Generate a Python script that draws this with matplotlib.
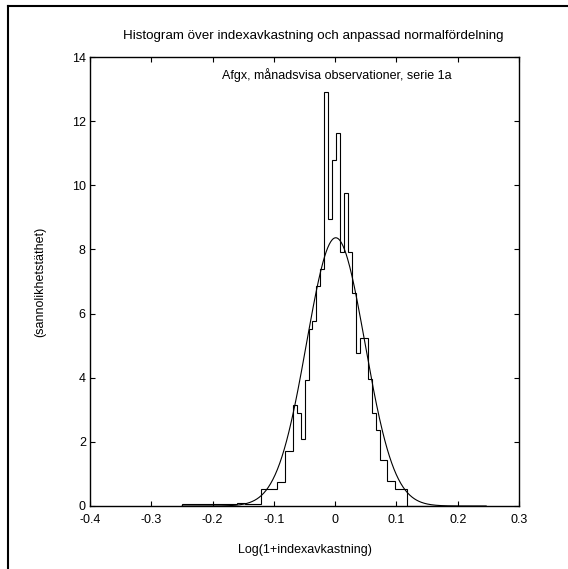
import numpy as np
import matplotlib.pyplot as plt
from matplotlib.lines import Line2D

plt.rcParams['font.family'] = ['Liberation Sans', 'DejaVu Sans']
plt.rcParams['font.size'] = 9

# histogram bins (log returns), density per bin
bin_start = -0.2496
bin_stop = 0.2464
n_bins = 77
density = ([0.05] * 14 + [0.08] * 2 + [0.05] * 4
           + [0.53] * 4 + [0.76] * 2 + [1.71] * 2
           + [3.15, 2.89, 2.08, 3.93, 5.52, 5.78, 6.86, 7.39,
              12.92, 8.95, 10.79, 11.62, 7.93, 9.75, 7.93, 6.63, 4.76]
           + [5.25] * 2 + [3.95, 2.89, 2.37]
           + [1.43] * 2 + [0.79] * 2 + [0.52] * 3
           + [0.0] * 20)

# fitted normal distribution
fit_mean = 0.001
fit_std = 0.0477

x_ticks = [-0.4, -0.3, -0.2, -0.1, 0, 0.1, 0.2, 0.3]
x_tick_labels = ['-0.4', '-0.3', '-0.2', '-0.1', '0', '0.1', '0.2', '0.3']
y_ticks = [0, 2, 4, 6, 8, 10, 12, 14]

title = 'Histogram över indexavkastning och anpassad normalfördelning'
subtitle = 'Afgx, månadsvisa observationer, serie 1a'

fig = plt.figure(figsize=(5.68, 5.69), dpi=100)
ax = fig.add_axes([90 / 568, 1 - 506 / 569, 429 / 568, 449 / 569])

edges = np.linspace(bin_start, bin_stop, n_bins + 1)
ax.stairs(density, edges, color='black', linewidth=0.8)

xs = np.linspace(bin_start, bin_stop, 400)
pdf = np.exp(-0.5 * ((xs - fit_mean) / fit_std) ** 2) / (fit_std * np.sqrt(2 * np.pi))
ax.plot(xs, pdf, color='black', linewidth=0.8)

ax.set_xlim(-0.4, 0.3)
ax.set_ylim(0, 14)
ax.set_xticks(x_ticks)
ax.set_xticklabels(x_tick_labels)
ax.set_yticks(y_ticks)
ax.tick_params(direction='in', length=3.6, width=0.8, top=True, right=True)
ax.tick_params(axis='x', pad=6)
ax.tick_params(axis='y', pad=3)
for s in ax.spines.values():
    s.set_linewidth(1.0)

ax.set_xlabel('Log(1+indexavkastning)')
ax.xaxis.set_label_coords(0.5, (506 - 550) / 449)
ax.xaxis.label.set_va('center')
ax.set_ylabel('(sannolikhetstäthet)')
ax.yaxis.set_label_coords((40 - 90) / 429, 0.5)
ax.yaxis.label.set_va('center')

ax.text(-0.1846, 13.3, subtitle, ha='left', va='baseline')
fig.text(313 / 568, 1 - 39.5 / 569, title, ha='center', va='baseline', fontsize=9.6)

# outer frame (left and top edges only)
fig.add_artist(Line2D([7.5 / 568, 7.5 / 568], [0, 1 - 6 / 569], color='black', linewidth=1.5))
fig.add_artist(Line2D([7.5 / 568, 1], [1 - 6 / 569, 1 - 6 / 569], color='black', linewidth=1.5))

fig.savefig('out.png', dpi=100)
